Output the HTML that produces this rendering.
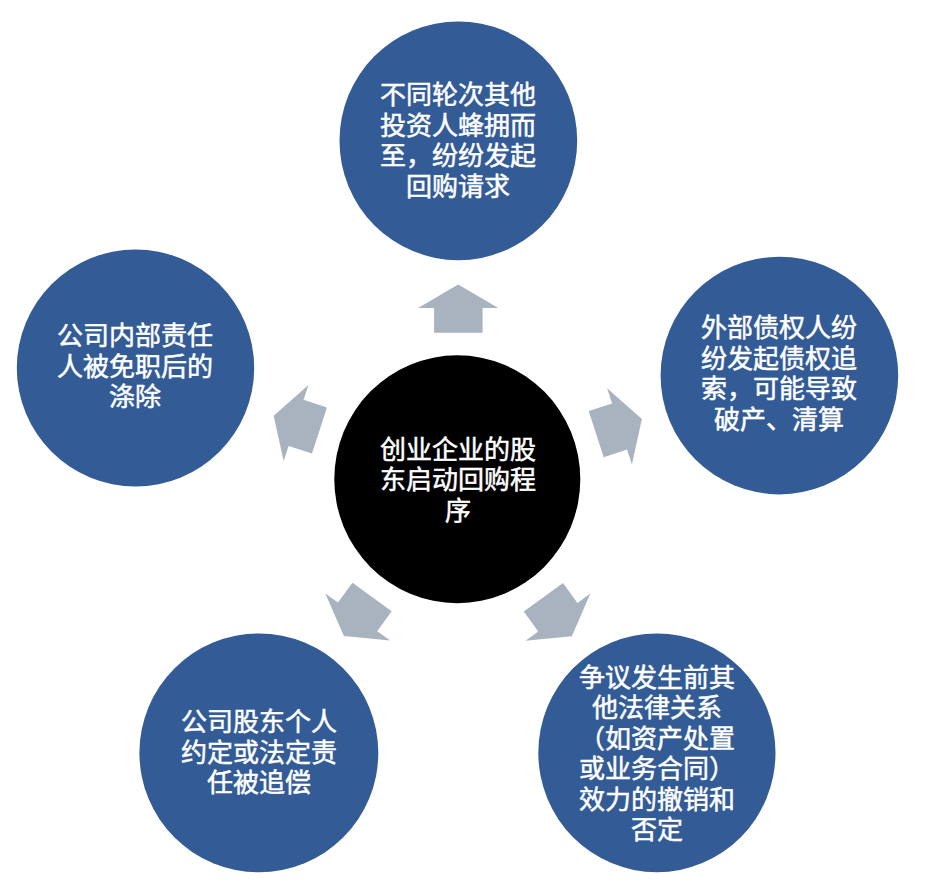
<!DOCTYPE html>
<html lang="zh-CN">
<head>
<meta charset="utf-8">
<style>
html,body{margin:0;padding:0;background:#fff;}
body{width:926px;height:888px;position:relative;overflow:hidden;font-family:"Liberation Sans",sans-serif;}
svg{position:absolute;left:0;top:0;filter:blur(0.4px);}
.t{position:absolute;color:#fff;font-size:26px;line-height:30.5px;text-align:center;white-space:nowrap;font-weight:400;-webkit-text-stroke:0.5px #fff;}
</style>
</head>
<body>
<svg width="926" height="888" viewBox="0 0 926 888">
  <g fill="#A9B3C0">
    <path id="arr" d="M458.2 284.6 L498.3 308.1 L482.6 308.1 L482.6 332.7 L434.1 332.7 L434.1 308.1 L418.1 308.1 Z"/>
    <use href="#arr" transform="translate(-1.0 -0.73) rotate(72 457.5 479.3)"/>
    <use href="#arr" transform="translate(0.41 -1.08) rotate(144 457.5 479.3)"/>
    <use href="#arr" transform="translate(1.41 -0.43) rotate(216 457.5 479.3)"/>
    <use href="#arr" transform="translate(1.15 -2.67) rotate(288 457.5 479.3)"/>
  </g>
  <ellipse cx="457.3" cy="479.25" rx="123" ry="123.95" fill="#000"/>
  <g fill="#335B96">
    <ellipse cx="458.35" cy="140.8" rx="118.85" ry="119.4"/>
    <ellipse cx="779.4" cy="375.55" rx="118.8" ry="118.85"/>
    <ellipse cx="656.9" cy="752.8" rx="118.6" ry="119.4"/>
    <ellipse cx="258.85" cy="752.85" rx="119.45" ry="119.45"/>
    <ellipse cx="135.5" cy="368" rx="118.7" ry="118.5"/>
  </g>
</svg>
<div class="t" style="left:358px;top:80px;width:200px;">不同轮次其他<br>投资人蜂拥而<br>至，纷纷发起<br>回购请求</div>
<div class="t" style="left:358px;top:434.5px;width:200px;">创业企业的股<br>东启动回购程<br>序</div>
<div class="t" style="left:679px;top:313px;width:200px;">外部债权人纷<br>纷发起债权追<br>索，可能导致<br>破产、清算</div>
<div class="t" style="left:557px;top:662.5px;width:200px;">争议发生前其<br>他法律关系<br>（如资产处置<br>或业务合同）<br>效力的撤销和<br>否定</div>
<div class="t" style="left:159px;top:707px;width:200px;">公司股东个人<br>约定或法定责<br>任被追偿</div>
<div class="t" style="left:35px;top:321px;width:200px;">公司内部责任<br>人被免职后的<br>涤除</div>
</body>
</html>
